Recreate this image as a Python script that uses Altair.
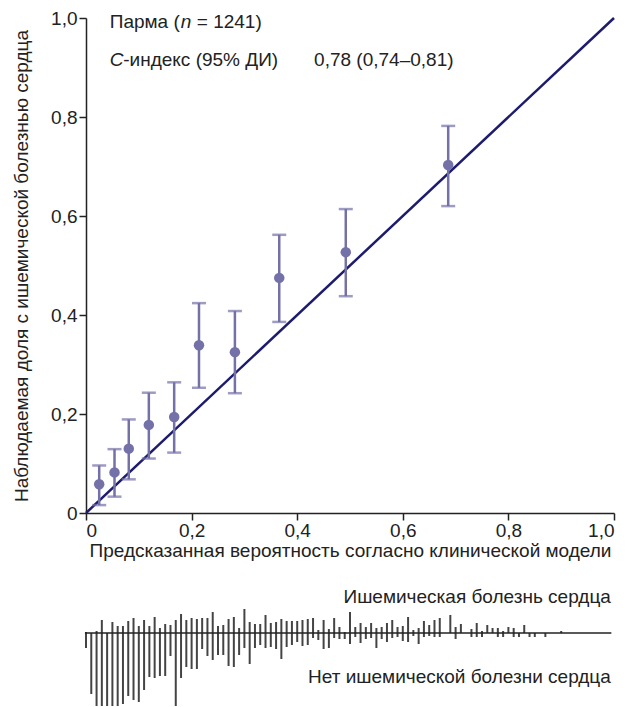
import altair as alt
import pandas as pd

# ---- calibration points (predicted vs observed, 95% CI) ----
pred = [0.025, 0.054, 0.081, 0.119, 0.167, 0.214, 0.282, 0.366, 0.492, 0.686]
obs = [0.058, 0.082, 0.130, 0.178, 0.194, 0.339, 0.325, 0.475, 0.527, 0.703]
ci_lo = [0.016, 0.033, 0.068, 0.110, 0.122, 0.253, 0.242, 0.386, 0.438, 0.620]
ci_hi = [0.096, 0.129, 0.189, 0.243, 0.264, 0.424, 0.408, 0.562, 0.614, 0.782]

# ---- spike histogram (bins of 0.01), counts with / without disease ----
events = [1, 0, 2, 13, 0, 11, 7, 7, 12, 15, 7, 13, 7, 16, 5, 9, 8, 13, 19, 13,
          15, 14, 15, 15, 21, 7, 8, 14, 16, 5, 24, 11, 9, 9, 18, 10, 11, 14, 12, 12,
          12, 13, 14, 15, 3, 13, 4, 15, 6, 1, 21, 6, 10, 6, 10, 5, 6, 10, 13, 6,
          7, 16, 3, 5, 12, 8, 13, 15, 0, 18, 6, 9, 0, 4, 10, 2, 8, 5, 5, 2,
          6, 5, 0, 8, 0, 0, 0, 0, 0, 0, 2]
non_events = [15, 61, 73, 73, 73, 73, 73, 71, 63, 67, 69, 57, 44, 45, 43, 43, 23, 73, 45, 34,
              36, 36, 16, 23, 27, 22, 22, 33, 34, 22, 15, 31, 15, 12, 15, 14, 16, 26, 14, 12,
              9, 13, 12, 5, 7, 16, 15, 5, 6, 6, 11, 4, 10, 6, 5, 15, 6, 9, 5, 4,
              8, 9, 3, 11, 4, 3, 4, 4, 0, 0, 6, 0, 0, 4, 4, 4, 0, 0, 4, 4,
              0, 4, 4, 0, 4, 4, 0, 4, 0, 0, 0]
bin_width = 0.01

FONT = "Liberation Sans"
FS = 19
PT = "#7470a8"
LINE = "#1d1b6e"
INK = "#222222"

cal = pd.DataFrame({"pred": pred, "obs": obs, "lo": ci_lo, "hi": ci_hi})
diag = pd.DataFrame({"p": [0.0, 1.0], "q": [0.0, 1.0]})
one = pd.DataFrame({"a": [0]})

xs = alt.Scale(domain=[0, 1], nice=False)
ys = alt.Scale(domain=[0, 1], nice=False)
tick_vals = [0, 0.2, 0.4, 0.6, 0.8, 1.0]
lab = "datum.value == 0 ? '0' : replace(format(datum.value, '.1f'), '.', ',')"
x_axis = alt.Axis(values=tick_vals, labelExpr=lab, grid=False, labelPadding=1, titlePadding=1,
                  title="Предсказанная вероятность согласно клинической модели")
y_axis = alt.Axis(values=tick_vals, labelExpr=lab, grid=False, titlePadding=19,
                  title="Наблюдаемая доля с ишемической болезнью сердца")


def X(f):
    return alt.X(f, type="quantitative", scale=xs, axis=x_axis)


def Y(f):
    return alt.Y(f, type="quantitative", scale=ys, axis=y_axis)


diag_line = alt.Chart(diag).mark_line(color=LINE, strokeWidth=2.5).encode(x=X("p"), y=Y("q"))
err = alt.Chart(cal).mark_rule(color=PT, strokeWidth=2.5).encode(x=X("pred"), y=Y("lo"), y2="hi")
cap_hi = alt.Chart(cal).mark_tick(color=PT, orient="horizontal", size=14, thickness=2.5).encode(x=X("pred"), y=Y("hi"))
cap_lo = alt.Chart(cal).mark_tick(color=PT, orient="horizontal", size=14, thickness=2.5).encode(x=X("pred"), y=Y("lo"))
pts = alt.Chart(cal).mark_circle(color=PT, size=110, opacity=1).encode(x=X("pred"), y=Y("obs"))


def txt(s, x, y, dx=0, italic=False, align="left"):
    kw = dict(align=align, baseline="middle", fontSize=FS, font=FONT, color=INK, dx=dx)
    if italic:
        kw["fontStyle"] = "italic"
    return alt.Chart(one).mark_text(**kw).encode(
        x=alt.datum(x), y=alt.datum(y), text=alt.value(s))


t1 = [txt("Парма (", 0.045, 0.992), txt("n", 0.045, 0.992, dx=71, italic=True),
      txt("= 1241)", 0.045, 0.992, dx=87)]
t2 = [txt("C", 0.045, 0.915, italic=True), txt("-индекс (95% ДИ)", 0.045, 0.915, dx=13.5),
      txt("0,78 (0,74–0,81)", 0.432, 0.915)]

main = alt.layer(diag_line, err, cap_hi, cap_lo, pts, *t1, *t2).properties(width=528, height=495)

# ---- spike panel ----
rows = []
for i, (e, n) in enumerate(zip(events, non_events)):
    if e:
        rows.append({"p": i * bin_width, "c": e})
    if n:
        rows.append({"p": i * bin_width, "c": -n})
spk = pd.DataFrame(rows)

sxs = alt.Scale(domain=[0, 1], nice=False)
sys_ = alt.Scale(domain=[-74, 48], nice=False)

spikes = alt.Chart(spk).mark_rule(color="#444444", strokeWidth=2).encode(
    x=alt.X("p:Q", scale=sxs, axis=None),
    y=alt.Y("c:Q", scale=sys_, axis=None),
    y2=alt.datum(0),
)
base = alt.Chart(one).mark_rule(color=INK, strokeWidth=1.5).encode(
    x=alt.datum(-0.002), x2=alt.datum(0.995), y=alt.datum(0))
lab_up = alt.Chart(one).mark_text(align="right", baseline="middle", fontSize=FS, font=FONT, color=INK).encode(
    x=alt.datum(0.994), y=alt.datum(36), text=alt.value("Ишемическая болезнь сердца"))
lab_dn = alt.Chart(one).mark_text(align="right", baseline="middle", fontSize=FS, font=FONT, color=INK).encode(
    x=alt.datum(0.994), y=alt.datum(-44), text=alt.value("Нет ишемической болезни сердца"))

spike_panel = alt.layer(spikes, base, lab_up, lab_dn).properties(width=528, height=122)

chart = alt.vconcat(main, spike_panel, spacing=72, bounds="flush").resolve_scale(
    x="independent", y="independent"
).configure_view(stroke=None).configure_axis(
    labelFont=FONT, titleFont=FONT, labelFontSize=FS, titleFontSize=FS,
    labelColor=INK, titleColor=INK, titleFontWeight="normal",
    domainColor=INK, tickColor=INK, domainWidth=1.5, tickWidth=1.5, tickSize=7,
).properties(padding={"left": 4, "top": 1, "right": 0, "bottom": 0})

chart.save("out.html", embed_options={"renderer": "svg", "actions": False})
